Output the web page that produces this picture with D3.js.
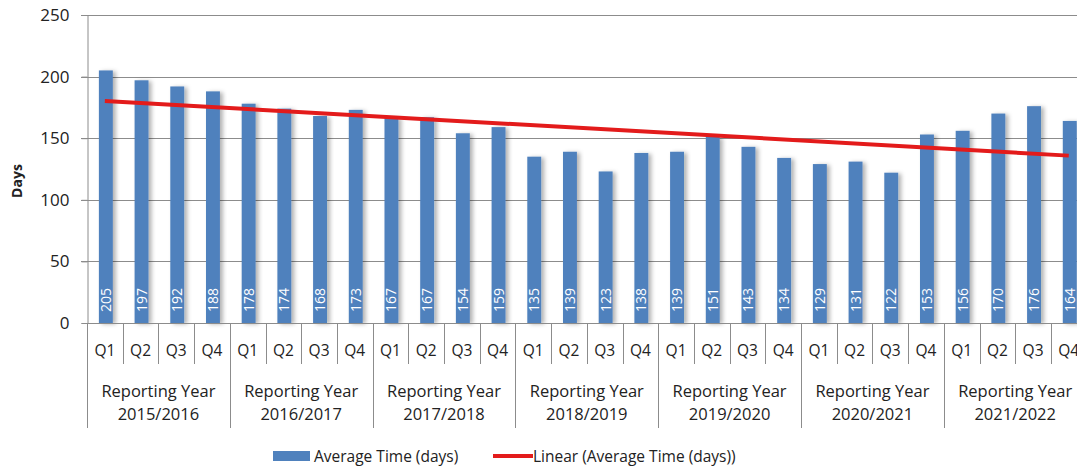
<!DOCTYPE html>
<html>
<head>
<meta charset="utf-8">
<script src="https://cdn.jsdelivr.net/npm/d3@7"></script>
<style>
  body { margin: 0; background: #fff; }
  svg { display: block; font-family: "Open Sans", sans-serif; }
</style>
</head>
<body>
<svg id="chart" width="1077" height="471"></svg>
<script>
var years = ['2015/2016', '2016/2017', '2017/2018', '2018/2019', '2019/2020', '2020/2021', '2021/2022'];
var quarters = ['Q1', 'Q2', 'Q3', 'Q4'];
var values = [205, 197, 192, 188, 178, 174, 168, 173, 167, 167, 154, 159, 135, 139,
              123, 138, 139, 151, 143, 134, 129, 131, 122, 153, 156, 170, 176, 164];
var yTicks = [0, 50, 100, 150, 200, 250];

var svg = d3.select('#chart');
var plotLeft = 87, plotTop = 15, plotBottom = 323, step = 35.7;

// one entry per quarter
var data = [];
years.forEach(function (yr, yi) {
  quarters.forEach(function (q, qi) {
    var i = yi * 4 + qi;
    data.push({ key: yr + ' ' + q, year: yr, q: q, value: values[i], i: i });
  });
});

var x = d3.scaleBand()
    .domain(data.map(function (d) { return d.key; }))
    .range([plotLeft, plotLeft + data.length * step]);

var y = d3.scaleLinear().domain([0, 250]).range([plotBottom, plotTop]);

var defs = svg.append('defs');
var f = defs.append('filter').attr('id', 'shadow').attr('x', '-50%').attr('width', '200%');
f.append('feDropShadow').attr('dx', 3).attr('dy', 1).attr('stdDeviation', 2)
  .attr('flood-color', '#000').attr('flood-opacity', 0.3);

// gridlines
svg.append('g').selectAll('line')
  .data(yTicks.slice(1))
  .enter().append('line')
    .attr('x1', plotLeft - 6).attr('x2', 1077)
    .attr('y1', function (d) { return Math.round(y(d)) + 0.5; })
    .attr('y2', function (d) { return Math.round(y(d)) + 0.5; })
    .attr('stroke', '#8c8c8c').attr('stroke-width', 1);

// y axis
var yAxis = svg.append('g')
    .attr('transform', 'translate(' + (plotLeft + 0.5) + ',0)')
    .call(d3.axisLeft(y).tickValues(yTicks).tickSize(6).tickPadding(12));
yAxis.select('.domain').attr('stroke', '#8c8c8c');
yAxis.selectAll('.tick line').attr('stroke', '#8c8c8c');
yAxis.selectAll('.tick text').attr('font-size', 17).attr('fill', '#222')
  .attr('font-family', '"Open Sans", sans-serif');

svg.append('text')
  .attr('transform', 'translate(22,' + ((plotTop + plotBottom) / 2 + 12) + ') rotate(-90)')
  .attr('text-anchor', 'middle')
  .attr('font-size', 14).attr('font-weight', 'bold').attr('fill', '#222')
  .text('Days');

// bars
var barW = x.bandwidth() * 0.39;
svg.append('g').selectAll('rect')
  .data(data)
  .enter().append('rect')
    .attr('x', function (d) { return x(d.key) + (x.bandwidth() - barW) / 2 + 1; })
    .attr('y', function (d) { return y(d.value); })
    .attr('width', barW)
    .attr('height', function (d) { return y(0) - y(d.value); })
    .attr('fill', '#4f81bd')
    .attr('filter', 'url(#shadow)');

// value labels
svg.append('g').selectAll('text')
  .data(data)
  .enter().append('text')
    .attr('transform', function (d) {
      return 'translate(' + (x(d.key) + x.bandwidth() / 2 + 6) + ',' + (y(0) - 11) + ') rotate(-90)';
    })
    .attr('font-size', 14).attr('fill', '#fff')
    .text(function (d) { return d.value; });

// linear trend (least squares over the series)
var n = values.length;
var mx = d3.mean(data, function (d) { return d.i; });
var my = d3.mean(values);
var slope = d3.sum(data, function (d) { return (d.i - mx) * (d.value - my); }) /
            d3.sum(data, function (d) { return (d.i - mx) * (d.i - mx); });
var trend = [data[0], data[n - 1]].map(function (d) {
  return { key: d.key, value: my + slope * (d.i - mx) };
});
svg.append('path')
  .datum(trend)
  .attr('d', d3.line()
    .x(function (d) { return x(d.key) + x.bandwidth() / 2; })
    .y(function (d) { return y(d.value); }))
  .attr('fill', 'none').attr('stroke', '#e31b1b').attr('stroke-width', 4);

// x axis line
svg.append('line')
  .attr('x1', plotLeft).attr('x2', 1077)
  .attr('y1', plotBottom + 0.5).attr('y2', plotBottom + 0.5)
  .attr('stroke', '#8c8c8c');

// quarter separators and labels
var sep = svg.append('g').attr('stroke', '#8c8c8c');
data.forEach(function (d) {
  var xx = Math.round(x(d.key)) + 0.5;
  sep.append('line')
    .attr('x1', xx).attr('x2', xx)
    .attr('y1', plotBottom).attr('y2', d.q === 'Q1' ? 428 : 364);
});
svg.append('g').selectAll('text')
  .data(data)
  .enter().append('text')
    .attr('x', function (d) { return x(d.key) + x.bandwidth() / 2; })
    .attr('y', 356)
    .attr('text-anchor', 'middle')
    .attr('font-size', 15.5).attr('fill', '#222')
    .text(function (d) { return d.q; });

// year labels
var yl = svg.append('g').selectAll('text')
  .data(years)
  .enter().append('text')
    .attr('text-anchor', 'middle')
    .attr('font-size', 16.5).attr('fill', '#222');
yl.append('tspan')
  .attr('x', function (d) { return x(d + ' Q1') + 2 * step; })
  .attr('y', 397)
  .text('Reporting Year');
yl.append('tspan')
  .attr('x', function (d) { return x(d + ' Q1') + 2 * step; })
  .attr('y', 420)
  .text(function (d) { return d; });

// legend
var lg = svg.append('g').attr('font-size', 15.5).attr('fill', '#222');
lg.append('rect').attr('x', 273).attr('y', 451).attr('width', 37).attr('height', 10).attr('fill', '#4f81bd');
lg.append('text').attr('x', 314).attr('y', 462).text('Average Time (days)');
lg.append('line').attr('x1', 493).attr('x2', 533).attr('y1', 456).attr('y2', 456)
  .attr('stroke', '#e31b1b').attr('stroke-width', 4);
lg.append('text').attr('x', 533).attr('y', 462).text('Linear (Average Time (days))');
</script>
</body>
</html>
